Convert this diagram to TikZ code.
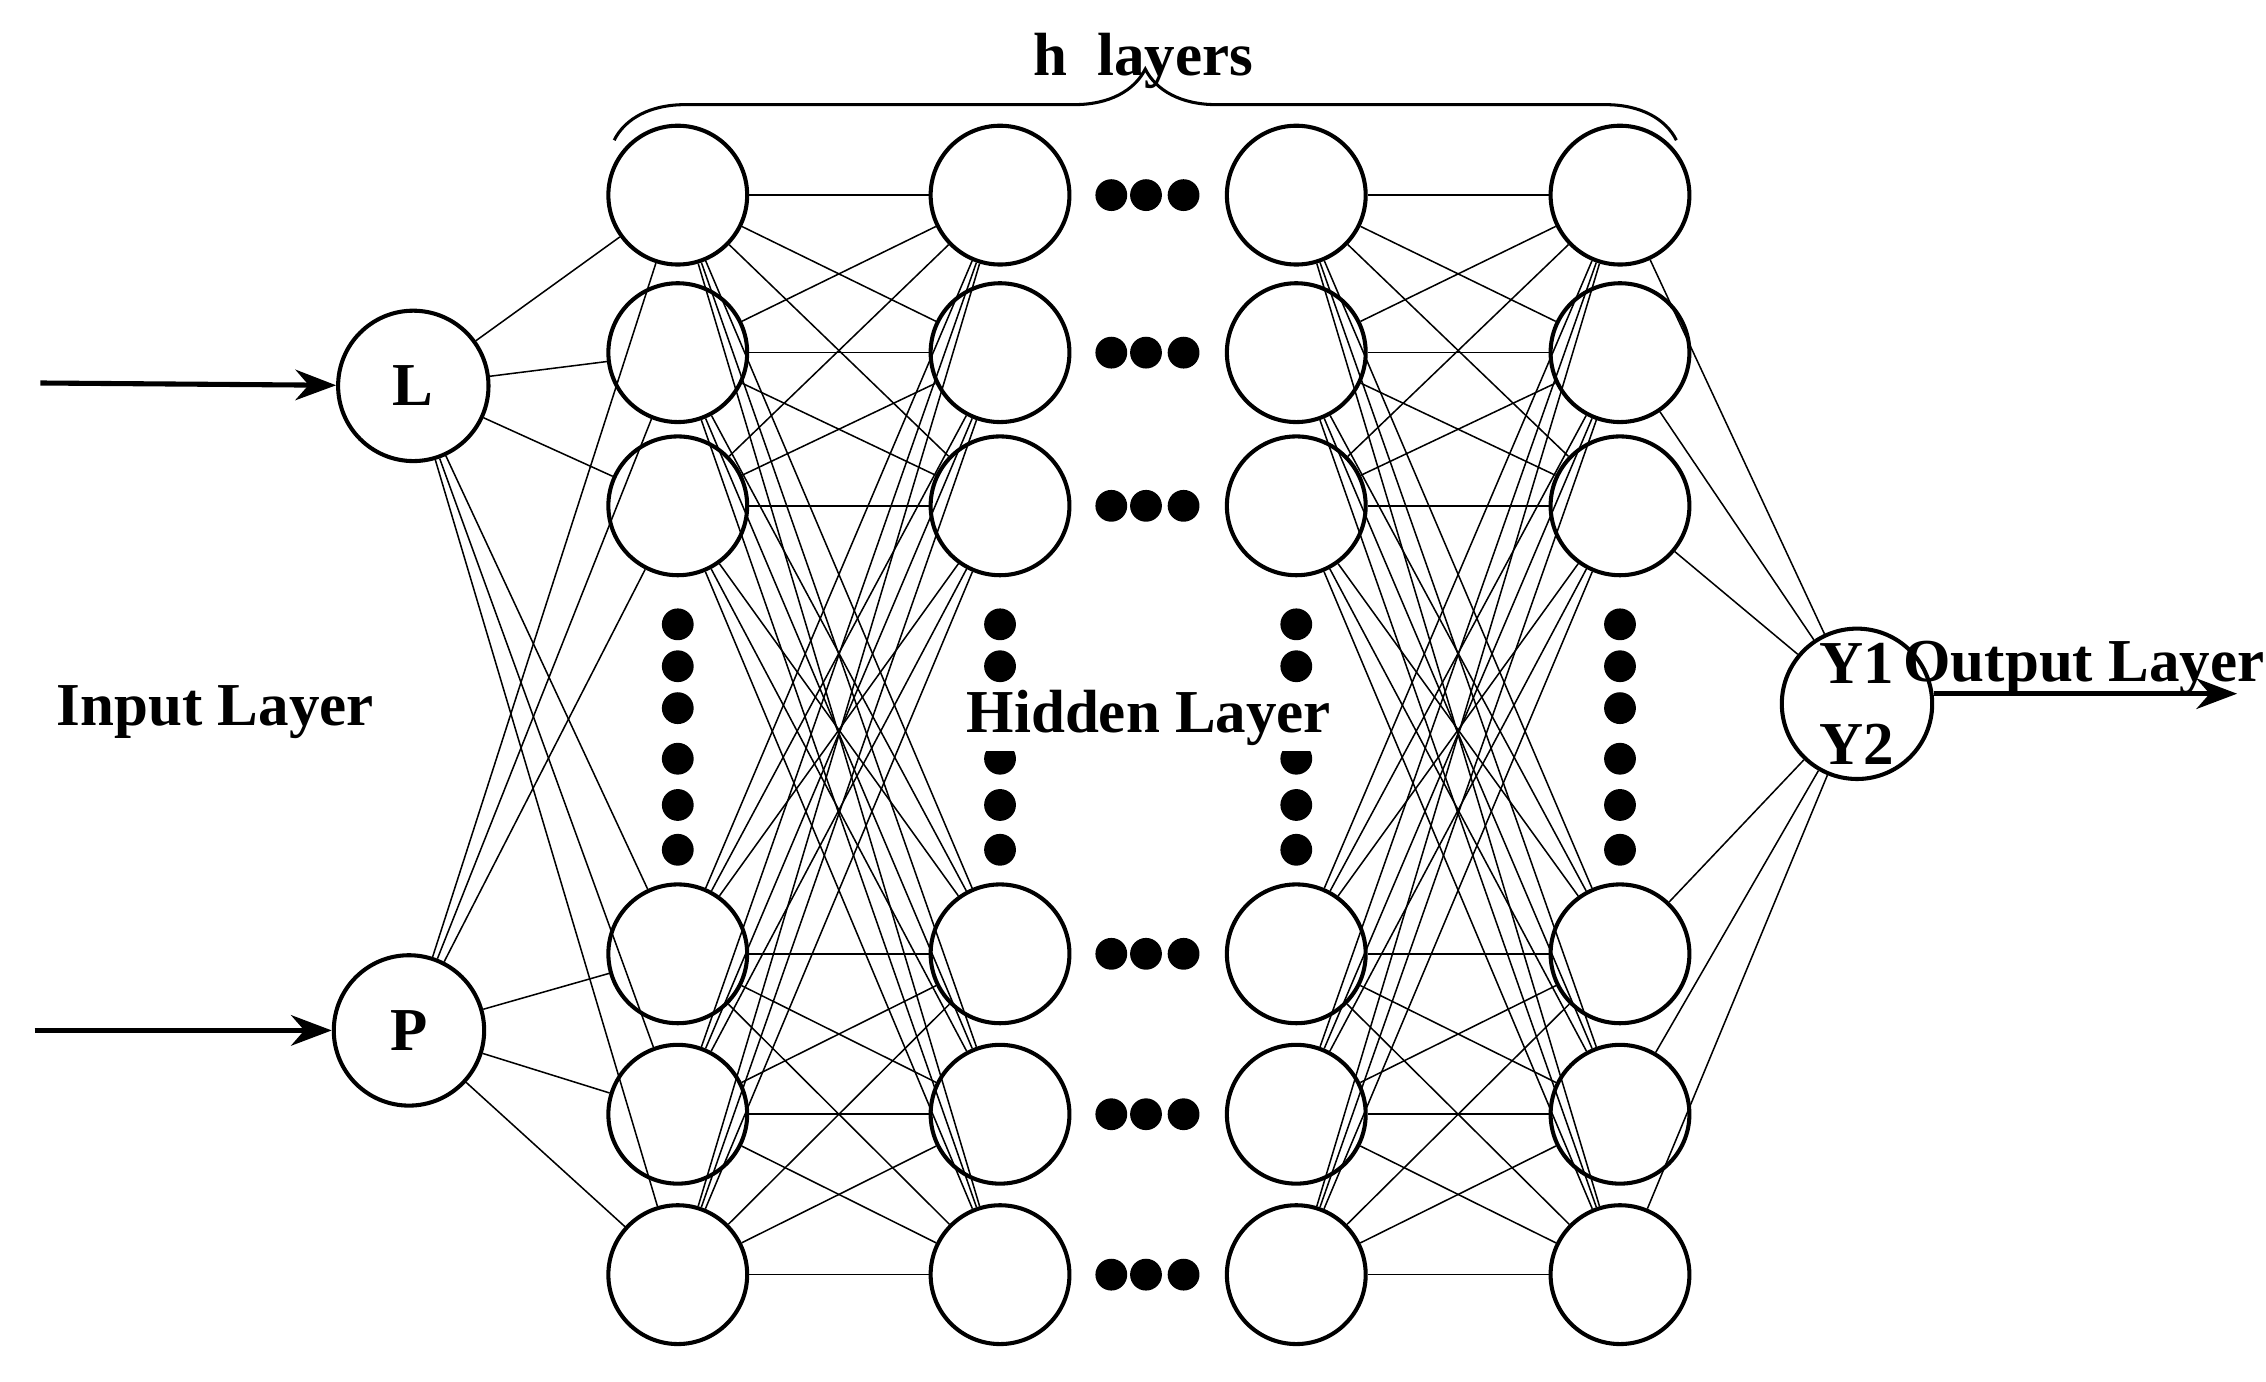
\documentclass[tikz,border=0pt]{standalone}
\usepackage{fontspec}
\setmainfont{Liberation Serif}
\usetikzlibrary{decorations.pathreplacing,arrows.meta}
\begin{document}
\begin{tikzpicture}[x=0.01cm,y=-0.01cm,
  neu/.style={circle,draw,line width=0.8pt,minimum size=0.96cm,inner sep=0pt},
  io/.style={circle,draw,line width=0.8pt,minimum size=1.04cm,inner sep=0pt,font=\bfseries\large},
  dot/.style={circle,fill=black,minimum size=0.22cm,inner sep=0pt},
  conn/.style={line width=0.3pt},
  lab/.style={font=\bfseries\large}]
\useasboundingbox (0,0) rectangle (1568,956);
\node[io] (L) at (286,267) {L};
\node[io] (P) at (283,713) {P};
\node[io,align=center] (O) at (1285,487) {Y1\\[2pt]Y2};
\foreach \c/\x in {1/469,2/692,3/897,4/1121}{
  \foreach \r/\y in {1/135,2/244,3/350,4/660,5/771,6/882}{
    \node[neu] (n\c\r) at (\x,\y) {};
  }
  \foreach \y in {432,461,490,525,557,588}{\node[dot] at (\x,\y) {};}
}
\foreach \r/\y in {1/135,2/244,3/350,4/660,5/771,6/882}{
  \foreach \x in {769,793,819}{\node[dot] at (\x,\y) {};}
}
\foreach \r in {1,...,6}{
  \draw[conn] (L) -- (n1\r);
  \draw[conn] (P) -- (n1\r);
  \draw[conn] (n4\r) -- (O);
  \foreach \s in {1,...,6}{
    \draw[conn] (n1\r) -- (n2\s);
    \draw[conn] (n3\r) -- (n4\s);
  }
}
\coordinate (a1) at (28,265);
\coordinate (a2) at (24,713);
\coordinate (a3) at (1548,480);
\draw[line width=1pt,-{Stealth[length=8pt]}] (a1) -- (L);
\draw[line width=1pt,-{Stealth[length=8pt]}] (a2) -- (P);
\draw[line width=1pt,-{Stealth[length=8pt]}] (O.east|-a3) -- (a3);
\node[lab] (tin) at (149,493) {Input Layer};
\node[lab] (tout) at (1442,462) {Output Layer};
\node[lab,fill=white,inner sep=1pt] (thid) at (795,497) {Hidden Layer};
\draw[line width=0.6pt,decorate,decoration={brace,amplitude=14pt}] (425,97) -- (1160,97);
\node[lab] (th) at (791,42) {h\ \ layers};
\end{tikzpicture}
\end{document}
